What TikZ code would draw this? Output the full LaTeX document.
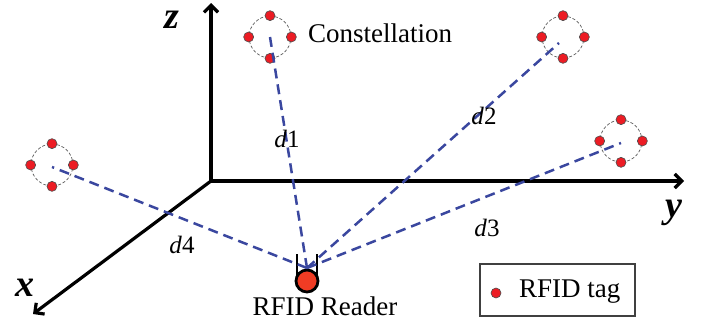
\documentclass[tikz,border=0pt]{standalone}
\usepackage{fontspec}
\setmainfont{Liberation Serif}
\usetikzlibrary{arrows.meta,calc}
\definecolor{tagred}{HTML}{EC1C24}
\definecolor{readerred}{HTML}{F03C24}
\definecolor{linkblue}{HTML}{3A479F}
\tikzset{
	axisline/.style={line width=3.2pt,-{Straight Barb[length=7pt,width=14pt]}},
	tagdot/.style={circle,fill=tagred,draw=black!70,line width=0.6pt,minimum size=10pt,inner sep=0pt},
	orbit/.style={circle,draw=black!65,densely dashed,line width=0.7pt,minimum size=42pt,inner sep=0pt},
	linkline/.style={draw=linkblue,line width=2.5pt,dash pattern=on 10pt off 6pt},
	axislabel/.style={font=\fontsize{38}{38}\selectfont\bfseries\itshape,inner sep=0pt},
	textlabel/.style={font=\fontsize{27}{27}\selectfont,inner sep=0pt},
	distlabel/.style={font=\fontsize{25}{25}\selectfont,inner sep=0pt}
}
\begin{document}
\begin{tikzpicture}[x=1pt,y=-1pt]
	\useasboundingbox (0,0) rectangle (702,324);
	
	% Define the axes
	\coordinate (origin) at (211,181);
	\coordinate (zend) at (211,3);
	\coordinate (yend) at (684,181);
	\coordinate (xend) at (33,314);
	\draw[axisline] (origin)--(zend);
	\draw[axisline] (origin)--(yend);
	\draw[axisline] (origin)--(xend);
	\node[axislabel] (zlabel) at (172,20) {z};
	\node[axislabel] (ylabel) at (674,213) {y};
	\node[axislabel] (xlabel) at (25,288) {x};
	
	% Draw the constellations
	\foreach \name/\cx/\cy in {one/270/37,two/563/37,three/621/141,four/52/165}{
		\node[orbit] (\name) at (\cx,\cy) {};
		\node[tagdot] (\name top) at (\name.north) {};
		\node[tagdot] (\name left) at (\name.west) {};
		\node[tagdot] (\name right) at (\name.east) {};
		\node[tagdot] (\name bottom) at (\name.south) {};
	}
	
	% Draw the reader
	\node[circle,fill=readerred,draw=black,line width=2.8pt,minimum size=22pt,inner sep=0pt] (reader) at (307,281) {};
	\coordinate (readerleft) at (297,254);
	\coordinate (readerright) at (317,254);
	\coordinate (feed) at (307,268);
	\draw[line width=2.6pt] (readerleft)--(297,275);
	\draw[line width=2.6pt] (readerright)--(317,275);
	
	% Draw the distances
	\draw[linkline] (feed)--(one.center);
	\draw[linkline] (feed)--($(two.center)+(-4,6)$);
	\draw[linkline] (feed)--($(three.center)+(0,2)$);
	\draw[linkline] (feed)--($(four.center)+(0,2)$);
	
	% Label the distances
	\node[distlabel] (done) at (287,139) {\textit{d}1};
	\node[distlabel] (dtwo) at (484,116) {\textit{d}2};
	\node[distlabel] (dthree) at (487,228) {\textit{d}3};
	\node[distlabel] (dfour) at (182,245) {\textit{d}4};
	
	% Label the parts
	\node[textlabel,anchor=west] (constellation) at (308,33) {Constellation};
	\node[textlabel] (readerlabel) at (325,306) {RFID Reader};
	
	% Draw the legend
	\node[draw=black!75,line width=1.1pt,minimum width=155pt,minimum height=52pt,inner sep=0pt] (legend) at (557.5,290) {};
	\node[tagdot] (legenddot) at (496,293) {};
	\node[textlabel,anchor=west] (legendtext) at (519,292) {RFID tag};
	
\end{tikzpicture}
\end{document}
